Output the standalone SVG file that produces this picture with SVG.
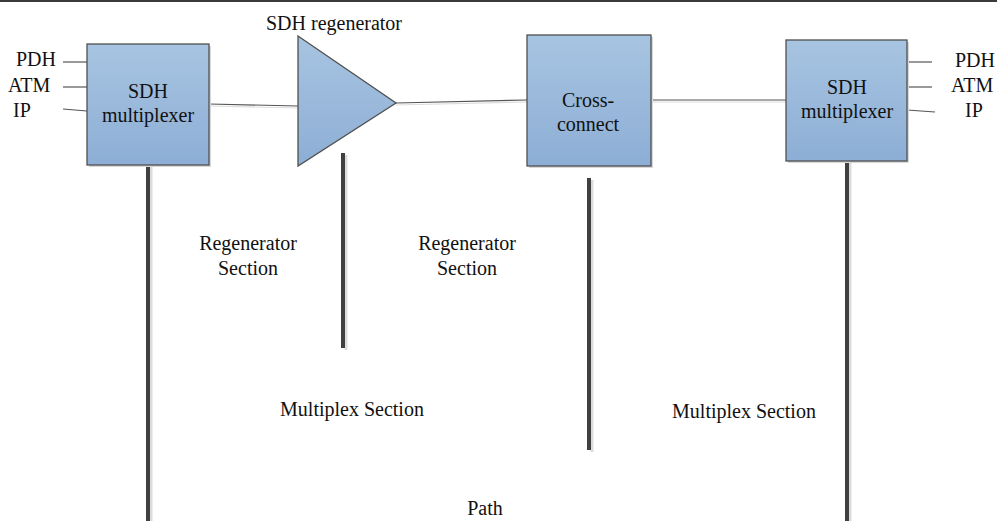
<svg xmlns="http://www.w3.org/2000/svg" width="997" height="521" viewBox="0 0 997 521">
<style>
text{font-family:"Liberation Serif","Times New Roman",serif;font-size:20px;fill:#111}
.c{text-anchor:middle}
.node{fill:url(#g);stroke:#505050;stroke-width:1.3}
.sh{fill:#d8d8d8}
.thin{stroke:#555;stroke-width:1.2;fill:none}
.thinsh{stroke:#ddd;stroke-width:1.2;fill:none}
.bar{stroke:#404040;stroke-width:4;stroke-linecap:butt}
.barsh{stroke:#dcdcdc;stroke-width:3}
</style>
<defs>
<linearGradient id="g" x1="0" y1="0" x2="0" y2="1">
<stop offset="0" stop-color="#a7c4e1"/>
<stop offset="1" stop-color="#8daed5"/>
</linearGradient>
</defs>
<rect width="997" height="521" fill="#fff"/>
<line x1="0" y1="1" x2="997" y2="1" stroke="#3a3a3a" stroke-width="2"/>
<g id="connectors">
<g class="thinsh">
<line x1="209" y1="106" x2="298" y2="108"/>
<line x1="396" y1="105" x2="527" y2="102"/>
<line x1="651" y1="102" x2="786" y2="102"/>
</g>
<g class="thin">
<line x1="63" y1="62" x2="87" y2="62"/>
<line x1="63" y1="87" x2="87" y2="87"/>
<line x1="63" y1="109" x2="87" y2="111"/>
<line x1="209" y1="104" x2="298" y2="106"/>
<line x1="396" y1="103" x2="527" y2="100"/>
<line x1="651" y1="100" x2="786" y2="100"/>
<line x1="907" y1="62" x2="932" y2="62"/>
<line x1="907" y1="87" x2="932" y2="87"/>
<line x1="907" y1="110" x2="935" y2="112"/>
</g>
<g class="barsh">
<line x1="151" y1="166" x2="151" y2="521"/>
<line x1="346" y1="155" x2="346" y2="350"/>
<line x1="592" y1="180" x2="592" y2="452"/>
<line x1="850" y1="162" x2="850" y2="521"/>
</g>
<g class="bar">
<line x1="148" y1="165" x2="148" y2="521"/>
<line x1="343" y1="153" x2="343" y2="348"/>
<line x1="589" y1="178" x2="589" y2="450"/>
<line x1="847" y1="161" x2="847" y2="521"/>
</g>
</g>
<g id="mux-left">
<rect class="sh" x="89" y="46" width="122" height="121"/>
<rect class="node" x="87" y="44" width="122" height="121"/>
<text class="c" x="148" y="98">SDH</text>
<text class="c" x="148" y="122">multiplexer</text>
</g>
<g id="labels-left">
<text x="16" y="66">PDH</text>
<text x="8" y="92">ATM</text>
<text x="13" y="117">IP</text>
</g>
<g id="regenerator">
<polygon class="node" points="298,36 396,103 298,166"/>
<text class="c" x="334" y="30">SDH regenerator</text>
</g>
<g id="cross-connect">
<rect class="sh" x="529" y="37" width="124" height="131"/>
<rect class="node" x="527" y="35" width="124" height="131"/>
<text class="c" x="588" y="107">Cross-</text>
<text class="c" x="588" y="131">connect</text>
</g>
<g id="mux-right">
<rect class="sh" x="788" y="42" width="121" height="121"/>
<rect class="node" x="786" y="40" width="121" height="121"/>
<text class="c" x="847" y="94">SDH</text>
<text class="c" x="847" y="118">multiplexer</text>
</g>
<g id="labels-right">
<text x="955" y="67">PDH</text>
<text x="951" y="92">ATM</text>
<text x="965" y="117">IP</text>
</g>
<g id="section-labels">
<text class="c" x="248" y="250">Regenerator</text>
<text class="c" x="248" y="275">Section</text>
<text class="c" x="467" y="250">Regenerator</text>
<text class="c" x="467" y="275">Section</text>
<text class="c" x="352" y="416">Multiplex Section</text>
<text class="c" x="744" y="418">Multiplex Section</text>
<text class="c" x="485" y="515">Path</text>
</g>
</svg>
